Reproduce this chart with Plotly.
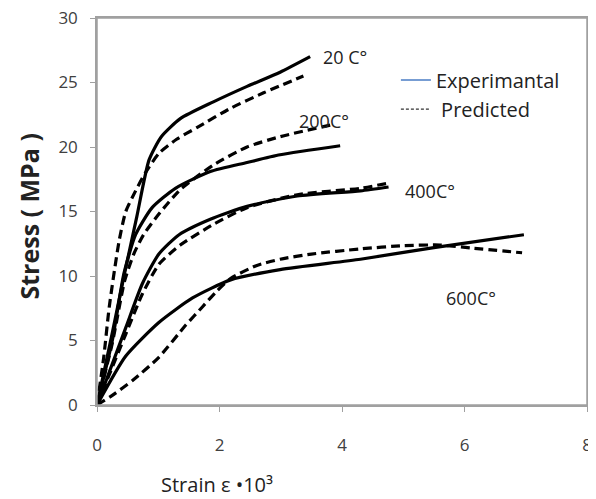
import plotly.graph_objects as go

# ---- data (strain x10^3, stress MPa) ----
exp_20_x = [0, 0.25, 0.45, 0.65, 0.85, 1.05, 1.36, 1.9, 2.45, 2.99, 3.48]
exp_20_y = [0, 5.6, 10.2, 14.6, 19.0, 20.8, 22.2, 23.5, 24.7, 25.8, 27.0]
pre_20_x = [0, 0.11, 0.2, 0.36, 0.47, 0.63, 0.79, 1.01, 1.3, 1.63, 2.18, 2.72, 3.37]
pre_20_y = [0, 3.7, 7.6, 12.7, 15.0, 16.6, 18.0, 19.5, 20.6, 21.5, 23.0, 24.2, 25.5]

exp_200_x = [0, 0.25, 0.44, 0.63, 0.9, 1.28, 1.85, 2.45, 2.99, 3.97]
exp_200_y = [0, 5.0, 10.2, 13.2, 15.3, 16.8, 18.1, 18.8, 19.4, 20.1]
pre_200_x = [0, 0.25, 0.45, 0.6, 0.76, 1.01, 1.36, 1.9, 2.45, 2.99, 3.81]
pre_200_y = [0, 4.8, 9.6, 11.7, 13.2, 14.8, 16.7, 18.6, 20.0, 20.8, 21.7]

exp_400_x = [0, 0.47, 0.74, 1.01, 1.34, 1.85, 2.45, 3.27, 4.3, 4.76]
exp_400_y = [0, 6.0, 9.4, 11.7, 13.2, 14.4, 15.4, 16.2, 16.6, 16.9]
pre_400_x = [0, 0.47, 0.74, 1.01, 1.36, 1.9, 2.45, 3.27, 4.3, 4.76]
pre_400_y = [0, 5.5, 8.6, 10.9, 12.4, 14.0, 15.3, 16.3, 16.8, 17.2]

exp_600_x = [0, 0.47, 1.01, 1.56, 2.18, 2.99, 4.3, 5.5, 6.97]
exp_600_y = [0, 3.8, 6.4, 8.3, 9.7, 10.5, 11.3, 12.2, 13.2]
pre_600_x = [0, 0.22, 0.58, 1.01, 1.45, 1.72, 1.95, 2.18, 2.6, 2.99, 3.5, 4.3, 5.0, 5.6, 6.15, 6.94]
pre_600_y = [0, 0.65, 1.9, 3.7, 6.2, 7.6, 8.8, 9.8, 10.8, 11.3, 11.7, 12.1, 12.35, 12.4, 12.15, 11.8]

curve_labels = ["20 C°", "200C°", "400C°", "600C°"]
label_x = [4.05, 3.70, 5.43, 6.1]
label_y = [27.0, 22.0, 16.6, 8.3]

x_ticks = [0, 2, 4, 6, 8]
y_ticks = [0, 5, 10, 15, 20, 25, 30]

FONT = "Open Sans"
fig = go.Figure()

exp_sets = [(exp_20_x, exp_20_y), (exp_200_x, exp_200_y), (exp_400_x, exp_400_y), (exp_600_x, exp_600_y)]
pre_sets = [(pre_20_x, pre_20_y), (pre_200_x, pre_200_y), (pre_400_x, pre_400_y), (pre_600_x, pre_600_y)]

for xs, ys in exp_sets:
    fig.add_trace(go.Scatter(x=xs, y=ys, mode="lines", line=dict(color="black", width=3.2, shape="spline", smoothing=0.6),
                             showlegend=False, hoverinfo="skip"))
for xs, ys in pre_sets:
    fig.add_trace(go.Scatter(x=xs, y=ys, mode="lines", line=dict(color="black", width=3.2, dash="9px,5px", shape="spline", smoothing=0.6),
                             showlegend=False, hoverinfo="skip"))

# legend entries
fig.add_trace(go.Scatter(x=[None], y=[None], mode="lines", name="Experimantal",
                         line=dict(color="#4a7cc4", width=1.5)))
fig.add_trace(go.Scatter(x=[None], y=[None], mode="lines", name=" Predicted",
                         line=dict(color="#333333", width=1.3, dash="3px,2px")))

for t, lx, ly in zip(curve_labels, label_x, label_y):
    fig.add_annotation(x=lx, y=ly, text=t, showarrow=False, xref="x", yref="y",
                       xanchor="center", yanchor="middle",
                       font=dict(family=FONT, size=18, color="#222222"))

fig.add_annotation(xref="paper", yref="paper", x=0.245, y=-0.205, text="Strain ε •10³",
                   xanchor="center", yanchor="middle",
                   showarrow=False, font=dict(family=FONT, size=20, color="#222222"))
fig.add_annotation(xref="paper", yref="paper", x=-0.138, y=0.488, text="<b>Stress ( MPa )</b>",
                   xanchor="center", yanchor="middle",
                   textangle=-90, showarrow=False, font=dict(family=FONT, size=25, color="#222222"))

# plot frame (top/right border like the reference)
fig.add_shape(type="rect", xref="paper", yref="paper", x0=0, x1=1, y0=0, y1=1,
              line=dict(color="#a0a0a0", width=1.5), layer="above")

axis_common = dict(showgrid=False, zeroline=False, showline=True, mirror=True, automargin=False,
                   linecolor="#a0a0a0", linewidth=1.5, ticks="outside", ticklen=5,
                   tickcolor="#a0a0a0", ticklabeloverflow="allow",
                   tickfont=dict(family=FONT, size=17, color="#404040"))

fig.update_layout(
    width=596, height=499,
    margin=dict(l=89, r=17, t=10, b=102),
    plot_bgcolor="white", paper_bgcolor="white",
    xaxis=dict(range=[0, 8], tickvals=x_ticks, ticklabelstandoff=19, **axis_common),
    yaxis=dict(range=[0, 30], tickvals=y_ticks, ticklabelstandoff=9, **axis_common),
    legend=dict(x=0.61, y=0.89, xanchor="left", yanchor="top", bgcolor="rgba(0,0,0,0)",
                font=dict(family=FONT, size=20, color="#222222"), tracegroupgap=0),
    showlegend=True,
)

fig.write_html("out.html")
